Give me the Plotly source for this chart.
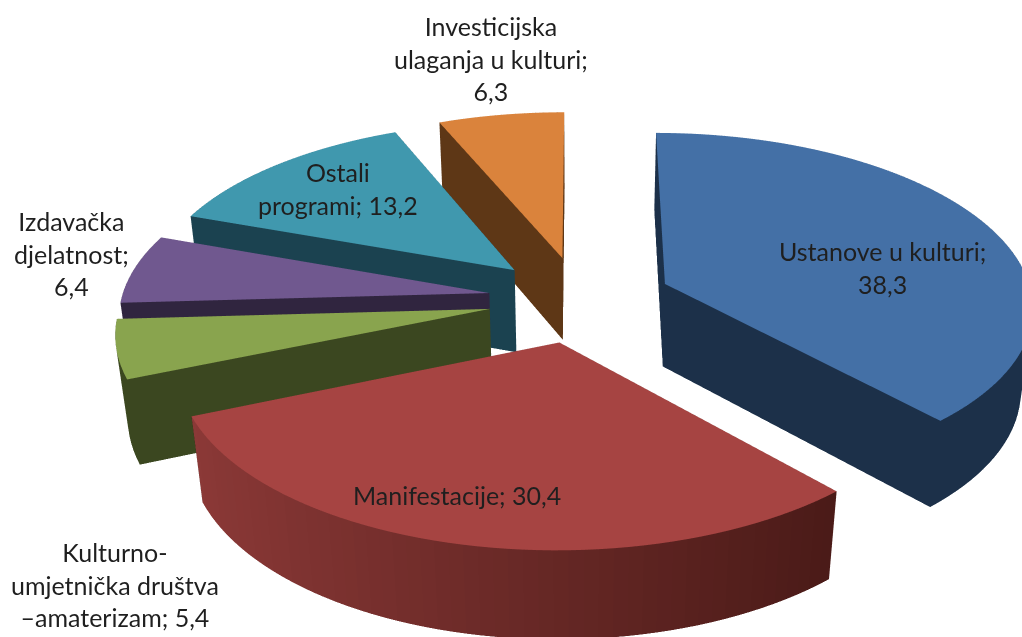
import math
import plotly.graph_objects as go

categories = ["Ustanove u kulturi", "Manifestacije", "Kulturno-umjetnička društva –amaterizam",
              "Izdavačka djelatnost", "Ostali programi", "Investicijska ulaganja u kulturi"]
values = [38.3, 30.4, 5.4, 6.4, 13.2, 6.3]
label_text = ["Ustanove u kulturi;<br>38,3", "Manifestacije; 30,4",
              "Kulturno-<br>umjetnička društva<br>–amaterizam; 5,4",
              "Izdavačka<br>djelatnost;<br>6,4", "Ostali<br>programi; 13,2",
              "Investicijska<br>ulaganja u kulturi;<br>6,3"]

top_colors = ["#4470a6", "#a64442", "#89a44e", "#70588f", "#4098ae", "#da833c"]
side_light = ["#1c3049", "#8f3b39", "#3b4720", "#30253f", "#1b4250", "#5e3716"]
side_dark = ["#1c3049", "#3e1512", "#3b4720", "#30253f", "#1b4250", "#5e3716"]
label_pos = [(882, 268), (457, 495), (115, 585), (71, 253), (338, 189), (491, 59)]

EXPLODE, HEIGHT, STEP = 0.25, 0.25, 2.0
W, H = 1160, 1900       # canvas larger than the window; the window shows its upper part
OFFSET_PX = 617
K = H * 1.207
EL = math.radians(42.6)
D = 2.25


def rgb(h):
    return tuple(int(h[i:i + 2], 16) for i in (1, 3, 5))


def mix(a, b, t):
    a, b = rgb(a), rgb(b)
    return "rgb(%d,%d,%d)" % tuple(a[i] + (b[i] - a[i]) * t for i in range(3))


fig = go.Figure()
start = 0.0
total = sum(values)
for i, v in enumerate(values):
    sweep = 360 * v / total
    mid = math.radians(start + sweep / 2)
    ox, oy = EXPLODE * math.sin(mid), EXPLODE * math.cos(mid)
    n = max(2, int(sweep / STEP))
    angs = [math.radians(start + sweep * k / n) for k in range(n + 1)]
    xs, ys, zs = [ox, ox], [oy, oy], [0.0, HEIGHT]
    for a in angs:
        for z in (0.0, HEIGHT):
            xs.append(ox + math.sin(a))
            ys.append(oy + math.cos(a))
            zs.append(z)
    I, J, K_, C = [], [], [], []
    for k in range(n):
        b0, t0, b1, t1 = 2 + 2 * k, 3 + 2 * k, 4 + 2 * k, 5 + 2 * k
        I += [1]; J += [t0]; K_ += [t1]; C += [top_colors[i]]
        t = (math.sin(angs[k]) + 1) / 2
        col = mix(side_light[i], side_dark[i], t)
        I += [b0, t0]; J += [b1, b1]; K_ += [t0, t1]; C += [col, col]
    for b, t_ in ((2, 3), (2 + 2 * n, 3 + 2 * n)):
        I += [0, 1]; J += [b, b]; K_ += [1, t_]; C += [side_dark[i] if i != 1 else "#4a1a18"] * 2
    fig.add_trace(go.Mesh3d(x=xs, y=ys, z=zs, i=I, j=J, k=K_, facecolor=C, flatshading=True,
                            lighting=dict(ambient=1, diffuse=0, specular=0, fresnel=0),
                            hoverinfo="skip", showscale=False, name=categories[i]))
    start += sweep

# camera: translated so that the pie sits above the optical axis
delta = OFFSET_PX / K * D
ux, uy, uz = 0, math.sin(EL), math.cos(EL)
dx, dy, dz = 0, math.cos(EL), -math.sin(EL)
cy, cz = -delta * uy, -delta * uz
ey, ez = cy - D * dy, cz - D * dz

hidden = dict(visible=False, showgrid=False, zeroline=False, showbackground=False)
fig.update_layout(
    width=W, height=H, margin=dict(l=0, r=0, t=0, b=0), paper_bgcolor="white", showlegend=False,
    scene=dict(
        domain=dict(x=[0, 1], y=[0, 1]),
        xaxis=dict(range=[-1.4, 1.4], **hidden), yaxis=dict(range=[-1.4, 1.4], **hidden),
        zaxis=dict(range=[0, 0.3], **hidden),
        aspectmode="manual", aspectratio=dict(x=1, y=1, z=0.107),
        camera=dict(eye=dict(x=0, y=ey, z=ez), center=dict(x=0, y=cy, z=cz),
                    up=dict(x=0, y=0, z=1), projection=dict(type="perspective")),
    ),
)
for txt, (px, py) in zip(label_text, label_pos):
    fig.add_annotation(text=txt, x=px / W, y=1 - py / H, xref="paper", yref="paper",
                       showarrow=False, align="center", xanchor="center", yanchor="middle",
                       font=dict(family="Lato", size=25, color="#1f1f1f"))
fig.write_html("out.html", config=dict(displayModeBar=False),
               post_script="document.documentElement.style.overflow='hidden';document.body.style.overflow='hidden';document.body.style.margin='0';")
